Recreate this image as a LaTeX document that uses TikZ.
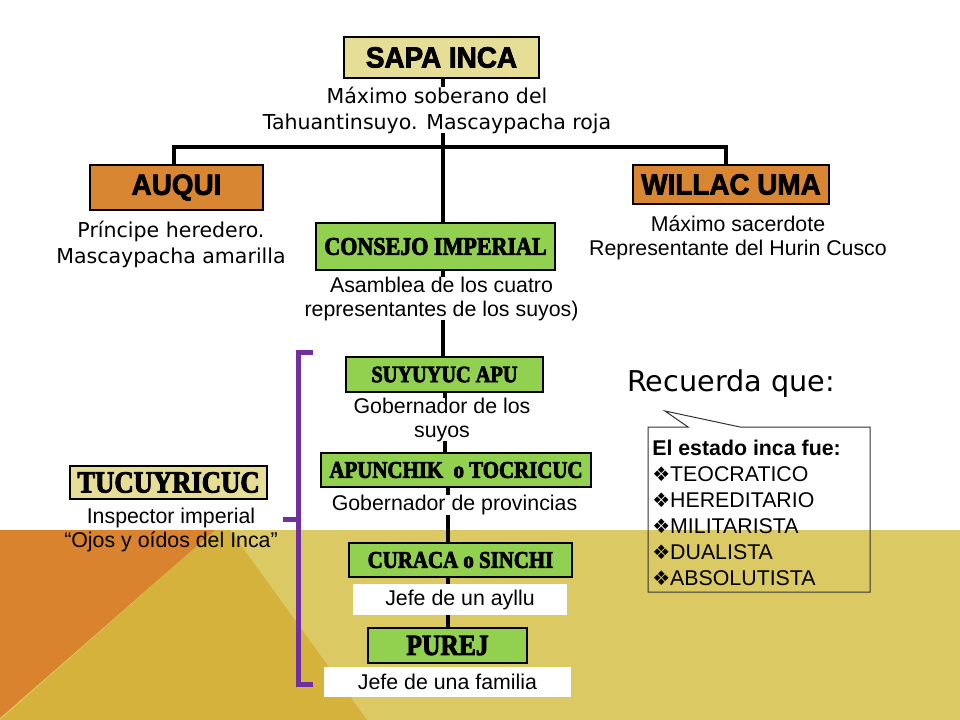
\documentclass[tikz,border=0pt]{standalone}
\usepackage{fontspec}
\setmainfont{Liberation Sans}
\newfontfamily\tahomafont{DejaVu Sans}
\newfontfamily\simbolos{DejaVu Sans}
\newfontfamily\impactfont[FakeStretch=0.95,BoldFeatures={FakeBold=2.5}]{Liberation Sans}
\newfontfamily\bernardfont[FakeStretch=0.87,BoldFeatures={FakeBold=3}]{Liberation Serif}

\definecolor{incatan}{RGB}{230,221,150}
\definecolor{incaorange}{RGB}{216,134,50}
\definecolor{incagreen}{RGB}{146,208,80}
\definecolor{bandlight}{RGB}{219,202,99}
\definecolor{banddark}{RGB}{212,178,60}
\definecolor{bandorange}{RGB}{217,131,46}
\definecolor{morado}{RGB}{112,48,160}

\newcommand\vinieta{{\simbolos\fontsize{15}{15}\selectfont ❖}}

\pgfdeclarelayer{bands}
\pgfdeclarelayer{lines}
\pgfsetlayers{bands,lines,main}

\begin{document}
\begin{tikzpicture}[x=0.75pt, y=-0.75pt,
    caja/.style 2 args={draw, line width=1pt, inner sep=0pt,
      minimum width=#1*0.75pt, minimum height=#2*0.75pt},
    impacto/.style={font=\impactfont\bfseries\fontsize{22}{22}\selectfont},
    bernard/.style={font=\bernardfont\bfseries\fontsize{#1}{#1}\selectfont},
    desc/.style={align=center, inner sep=0pt, fill=white, font=\fontsize{16}{18}\selectfont},
    tahomadesc/.style={align=center, inner sep=0pt, fill=white, font=\tahomafont\fontsize{15.4}{19.5}\selectfont},
    tronco/.style={line width=3pt},
    corchete/.style={draw=morado, line width=3.75pt}]

    \useasboundingbox (0,0) rectangle (960,720);

    % Nodes
    \node[caja={195}{41}, fill=incatan, impacto] (sapa) at (441.5,57.5) {SAPA INCA};
    \node[tahomadesc] (sapatxt) at (437,110) {Máximo soberano del\\Tahuantinsuyo. Mascaypacha roja};

    \node[caja={173}{45}, fill=incaorange, impacto] (auqui) at (176.5,187.5) {AUQUI};
    \node[tahomadesc] (auquitxt) at (171,244) {Príncipe heredero.\\Mascaypacha amarilla};

    \node[caja={196}{39}, fill=incaorange, impacto] (willac) at (731,184.5) {WILLAC UMA};
    \node[desc] (willactxt) at (738,238) {Máximo sacerdote\\Representante del Hurin Cusco};

    \node[caja={239}{47}, fill=incagreen, bernard=19] (consejo) at (435.5,246.5) {CONSEJO IMPERIAL};
    \node[desc] (consejotxt) at (441.5,298.5) {Asamblea de los cuatro\\representantes de los suyos)};

    \node[caja={197}{35}, fill=incagreen, bernard=17.5] (suyuyuc) at (444.5,374.5) {SUYUYUC APU};
    \node[desc] (suyuyuctxt) at (442,419.5) {Gobernador de los\\suyos};

    \node[caja={270}{34}, fill=incagreen, bernard=18] (apunchik) at (456,470) {APUNCHIK\ \ o TOCRICUC};
    \node[desc] (apunchiktxt) at (454.5,505) {Gobernador de provincias};

    \node[caja={223}{34}, fill=incagreen, bernard=18] (curaca) at (460.5,560) {CURACA o SINCHI};
    \node[caja={214}{31}, desc, draw=none] (ayllu) at (460,599.5) {Jefe de un ayllu};

    \node[caja={159}{35}, fill=incagreen, bernard=22] (purej) at (447.5,645.5) {PUREJ};
    \node[caja={247}{30}, desc, draw=none] (familia) at (447.5,682) {Jefe de una familia};

    \node[caja={197}{33}, fill=incatan, bernard=23] (tucuy) at (168.5,482.5) {TUCUYRICUC};
    \node[desc, fill=none] (tucuytxt) at (171,530) {Inspector imperial\\“Ojos y oídos del Inca”};

    \node[font=\tahomafont\fontsize{21.5}{24}\selectfont] (recuerda) at (731,384) {Recuerda que:};

    % callout
    \draw[line width=0.75pt, black!80] (648,427) -- (688,427) -- (665,411) -- (740,427)
      -- (870,427) -- (870,592) -- (648,592) -- cycle;
    \node[anchor=north west, align=left, inner sep=0pt, font=\fontsize{16}{19.5}\selectfont] (estado) at (652,440)
      {\textbf{El estado inca fue:}\\\vinieta TEOCRATICO\\\vinieta HEREDITARIO\\\vinieta MILITARISTA\\\vinieta DUALISTA\\\vinieta ABSOLUTISTA};

    % connectors
    \coordinate (barra) at (443,147);
    \coordinate (barraizq) at (174,147);
    \coordinate (barrader) at (726,147);
    \begin{pgfonlayer}{lines}
      \draw[tronco] (sapa.south -| barra) -- (barra);
      \draw[tronco] (barraizq |- auqui.north) -- (barraizq) -- (barrader) -- (barrader |- willac.north);
      \draw[tronco] (barra) -- (barra |- consejo.north);
      \draw[tronco] (consejo.south -| barra) -- (suyuyuc.north -| barra);
      \draw[tronco] (suyuyuc.south) -- (apunchik.north -| suyuyuc.south);
      \draw[tronco] (apunchik.south -| purej.north) -- (curaca.north -| purej.north);
      \draw[tronco] (curaca.south -| purej.north) -- (purej.north);
    \end{pgfonlayer}

    % bracket
    \draw[corchete] (313,352) -- (298,352) -- (298,684) -- (313,684);
    \draw[corchete] (298,519) -- (283,519);

    % background
    \begin{pgfonlayer}{bands}
      \fill[white] (0,0) rectangle (960,720);
      \fill[bandlight] (0,530) rectangle (960,720);
      \fill[banddark] (215,530) -- (230,530) -- (367,720) -- (0,720) -- cycle;
      \fill[bandorange] (0,530) -- (215,530) -- (0,718) -- cycle;
    \end{pgfonlayer}

\end{tikzpicture}
\end{document}
